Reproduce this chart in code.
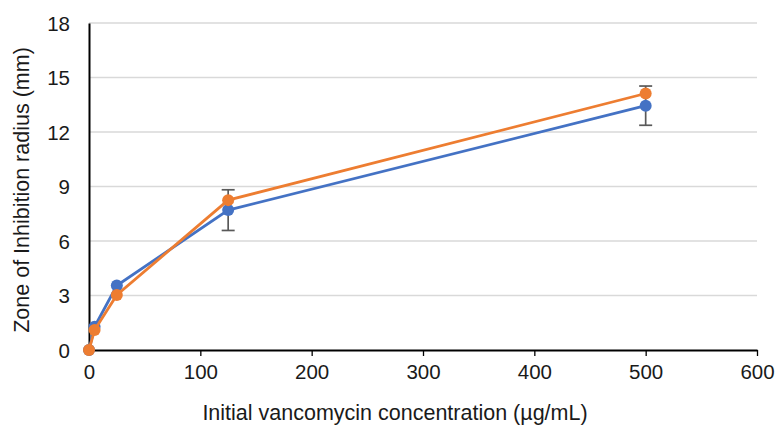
<!DOCTYPE html>
<html>
<head>
<meta charset="utf-8">
<script src="https://cdn.jsdelivr.net/npm/d3@7"></script>
<style>
  body { margin: 0; background: #fff; }
  text { font-family: "Liberation Sans", Arial, sans-serif; }
</style>
</head>
<body>
<script>
const w = 779;
const h = 430;

// data
const concentrations = [0, 5, 25, 125, 500];
const blueValues = [0, 1.28, 3.55, 7.7, 13.45];
const blueErrors = [0, 0, 0, 1.12, 1.08];
const orangeValues = [0, 1.1, 3.03, 8.25, 14.12];
const xTicks = [0, 100, 200, 300, 400, 500, 600];
const yTicks = [0, 3, 6, 9, 12, 15, 18];

const margin = { left: 89, right: 22, top: 23, bottom: 80 };

const svg = d3
  .select('body')
  .append('svg')
  .attr('width', w)
  .attr('height', h);

const xScale = d3
  .scaleLinear()
  .domain([0, 600])
  .range([margin.left, w - margin.right]);

const yScale = d3
  .scaleLinear()
  .domain([0, 18])
  .range([h - margin.bottom, margin.top]);

// gridlines
svg
  .append('g')
  .selectAll('line')
  .data(yTicks.slice(1))
  .enter()
  .append('line')
  .attr('x1', xScale(0))
  .attr('x2', xScale(600))
  .attr('y1', (d) => yScale(d))
  .attr('y2', (d) => yScale(d))
  .attr('stroke', '#d9d9d9')
  .attr('stroke-width', 1.3);

const xAxis = d3
  .axisBottom(xScale)
  .tickValues(xTicks)
  .tickSizeInner(6)
  .tickSizeOuter(0)
  .tickPadding(8);

const yAxis = d3
  .axisLeft(yScale)
  .tickValues(yTicks)
  .tickSize(0)
  .tickPadding(19);

const gx = svg
  .append('g')
  .attr('transform', `translate(0,${yScale(0)})`)
  .call(xAxis);

const gy = svg
  .append('g')
  .attr('transform', `translate(${xScale(0)},0)`)
  .call(yAxis);

[gx, gy].forEach((g) => {
  g.selectAll('text').attr('font-size', 20.5).attr('fill', '#1a1a1a');
  g.selectAll('line').attr('stroke', '#000').attr('stroke-width', 1.3);
  g.select('.domain').attr('stroke', '#000').attr('stroke-width', 2);
});
gy.selectAll('text').attr('dy', '0.36em');

// error bars (blue series)
const errData = concentrations
  .map((c, i) => ({ x: c, y: blueValues[i], e: blueErrors[i] }))
  .filter((d) => d.e > 0);

const eb = svg.append('g').attr('stroke', '#595959').attr('stroke-width', 1.7);
eb.selectAll('.stem')
  .data(errData)
  .enter()
  .append('line')
  .attr('x1', (d) => xScale(d.x))
  .attr('x2', (d) => xScale(d.x))
  .attr('y1', (d) => yScale(d.y - d.e))
  .attr('y2', (d) => yScale(d.y + d.e));
eb.selectAll('.cap-top')
  .data(errData)
  .enter()
  .append('line')
  .attr('x1', (d) => xScale(d.x) - 6.5)
  .attr('x2', (d) => xScale(d.x) + 6.5)
  .attr('y1', (d) => yScale(d.y + d.e))
  .attr('y2', (d) => yScale(d.y + d.e));
eb.selectAll('.cap-bot')
  .data(errData)
  .enter()
  .append('line')
  .attr('x1', (d) => xScale(d.x) - 6.5)
  .attr('x2', (d) => xScale(d.x) + 6.5)
  .attr('y1', (d) => yScale(d.y - d.e))
  .attr('y2', (d) => yScale(d.y - d.e));

const line = d3
  .line()
  .x((d) => xScale(d[0]))
  .y((d) => yScale(d[1]));

const series = [
  { values: blueValues, color: '#4472c4' },
  { values: orangeValues, color: '#ed7d31' },
];

series.forEach((s) => {
  const pts = concentrations.map((c, i) => [c, s.values[i]]);
  svg
    .append('path')
    .datum(pts)
    .attr('fill', 'none')
    .attr('stroke', s.color)
    .attr('stroke-width', 2.8)
    .attr('d', line);
  svg
    .append('g')
    .selectAll('circle')
    .data(pts)
    .enter()
    .append('circle')
    .attr('cx', (d) => xScale(d[0]))
    .attr('cy', (d) => yScale(d[1]))
    .attr('r', 6)
    .attr('fill', s.color);
});

svg
  .append('text')
  .attr('x', 395)
  .attr('y', 420)
  .attr('text-anchor', 'middle')
  .attr('font-size', 21.5)
  .attr('fill', '#1a1a1a')
  .text('Initial vancomycin concentration (µg/mL)');

svg
  .append('text')
  .attr('transform', `translate(29,190) rotate(-90)`)
  .attr('text-anchor', 'middle')
  .attr('font-size', 21.5)
  .attr('fill', '#1a1a1a')
  .text('Zone of Inhibition radius (mm)');
</script>
</body>
</html>
